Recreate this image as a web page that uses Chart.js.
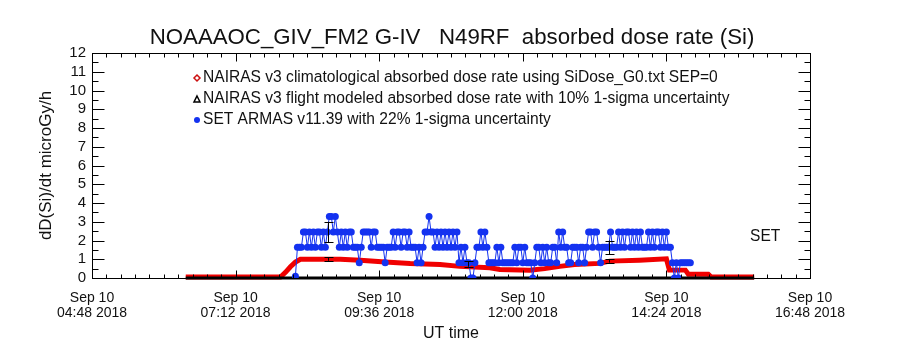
<!DOCTYPE html>
<html>
<head>
<meta charset="utf-8">
<script src="https://cdn.jsdelivr.net/npm/chart.js@4.4.1/dist/chart.umd.min.js"></script>
<style>
  html, body { margin: 0; padding: 0; background: #fff; }
</style>
</head>
<body>
<canvas id="c" width="900" height="350"></canvas>
<script>
// times are UT minutes of day, Sep 10 2018
const xTicks = [288, 432, 576, 720, 864, 1008];
const yTicks = [0, 1, 2, 3, 4, 5, 6, 7, 8, 9, 10, 11, 12];

const titleText = 'NOAAAOC_GIV_FM2 G-IV   N49RF  absorbed dose rate (Si)';
const legendLabels = [
  'NAIRAS v3 climatological absorbed dose rate using SiDose_G0.txt SEP=0',
  'NAIRAS v3 flight modeled absorbed dose rate with 10% 1-sigma uncertainty',
  'SET ARMAS v11.39 with 22% 1-sigma uncertainty'
];

// NAIRAS climatological
const redTimes = [382, 477, 482, 487, 492, 497, 537, 557, 582, 607, 637, 657, 687, 697, 727, 742, 757, 772, 797, 807, 837, 864, 867, 883, 886, 906, 909, 952];
const redValues = [0.05, 0.05, 0.3, 0.6, 0.85, 1.0, 1.0, 0.95, 0.85, 0.77, 0.72, 0.62, 0.55, 0.45, 0.42, 0.5, 0.62, 0.72, 0.78, 0.9, 0.95, 1.02, 0.43, 0.42, 0.2, 0.2, 0.05, 0.05];

// NAIRAS flight modeled
const blackTimes = [382, 952];
const blackValues = [0, 0];

// SET ARMAS
const blueTimes = [
  492, 494, 496, 498, 500, 502, 504, 506, 508, 510, 512, 514, 516, 518, 520, 522, 524, 526, 528, 530,
  532, 534, 536, 538, 540, 542, 544, 546, 548, 550, 552, 554, 556, 558, 560, 562, 564, 566, 568, 570,
  572, 574, 576, 578, 580, 582, 584, 586, 588, 590, 592, 594, 596, 598, 600, 602, 604, 606, 608, 610,
  612, 614, 616, 618, 620, 622, 624, 626, 628, 630, 632, 634, 636, 638, 640, 642, 644, 646, 648, 650,
  652, 654, 656, 658, 660, 662, 664, 666, 668, 670, 672, 674, 676, 678, 680, 682, 684, 686, 688, 690,
  692, 694, 696, 698, 700, 702, 704, 706, 708, 710, 712, 714, 716, 718, 720, 722, 724, 726, 728, 730,
  732, 734, 736, 738, 740, 742, 744, 746, 748, 750, 752, 754, 756, 758, 760, 762, 764, 766, 768, 770,
  772, 774, 776, 778, 780, 782, 784, 786, 788, 790, 792, 794, 796, 798, 800, 802, 804, 806, 808, 810,
  812, 814, 816, 818, 820, 822, 824, 826, 828, 830, 832, 834, 836, 838, 840, 842, 844, 846, 848, 850,
  852, 854, 856, 858, 860, 862, 864, 866, 868, 870, 872, 874, 876, 878, 880, 882, 884, 886, 888
];
const blueValues = [
  0.1, 1.64, 1.64, 1.64, 2.46, 2.46, 1.64, 2.46, 1.64, 2.46, 1.64, 2.46, 2.46, 1.64, 2.46, 1.64, 2.46, 3.28, 3.28, 2.46,
  3.28, 2.46, 1.64, 2.46, 1.64, 2.46, 1.64, 2.46, 2.46, 1.64, 1.64, 1.64, 0.82, 1.64, 2.46, 2.46, 2.46, 2.46, 1.64, 2.46,
  2.46, 1.64, 1.64, 1.64, 1.64, 0.82, 1.64, 1.64,
  1.64, 2.46, 1.64, 2.46, 2.46, 1.64, 2.46, 2.46, 1.64, 2.46, 1.64, 1.64, 1.64, 0.82, 1.64, 0.82, 1.64, 2.46, 2.46, 3.28,
  2.46, 2.46, 1.64, 2.46, 1.64, 2.46, 1.64, 2.46, 1.64, 2.46, 1.64, 2.46, 1.64, 2.46, 0.82, 1.64, 0.82, 1.64, 0.82, 0.82,
  0, 0, 0.82, 1.64, 1.64, 2.46, 1.64, 2.46, 1.64, 0.82,
  0.82, 0.82, 0.82, 1.64, 0.82, 1.64, 0.82, 0.82, 0.82, 0.82, 0.82, 0.82, 1.64, 0.82, 1.64, 1.64, 0.82, 1.64, 0.82, 0.82,
  0.82, 0, 0.82, 1.64, 1.64, 0.82, 1.64, 0.82, 1.64, 0.82, 0.82, 1.64, 1.64, 0.82, 2.46, 1.64, 2.46, 1.64, 1.64, 0.82,
  0.82, 1.64, 1.64, 1.64, 0.82, 1.64, 1.64, 0.82, 1.64, 2.46,
  2.46, 1.64, 2.46, 2.46, 1.64, 0.82, 1.64, 1.64, 1.64, 1.64, 2.46, 1.64, 1.64, 1.64, 2.46, 1.64, 2.46, 1.64, 2.46, 2.46,
  1.64, 2.46, 1.64, 2.46, 1.64, 2.46, 1.64, 1.64, 1.64, 2.46, 1.64, 2.46, 1.64, 2.46, 2.46, 1.64, 2.46, 1.64, 2.46, 1.64,
  1.64, 0.82, 0, 0.82, 0, 0.82, 0.82, 0.82, 0.82, 0.82, 0.82
];

// 1-sigma error bars (ARMAS 22%, NAIRAS 10%)
const errTimes = [525, 525, 665, 806, 806];
const errLow = [1.92, 0.92, 0.6, 1.28, 0.82];
const errHigh = [3.0, 1.12, 0.9, 2.0, 1.0];

const FONT = '"Liberation Sans", Arial, sans-serif';
Chart.defaults.font.family = FONT;
Chart.defaults.color = '#000';

const BLUE = '#1432f0';
const RED = '#f00000';

function pts(xs, ys) {
  return xs.map((x, i) => ({ x: x, y: ys[i] }));
}

function hhmm(v) {
  const h = Math.floor(v / 60), m = Math.round(v % 60);
  return String(h).padStart(2, '0') + ':' + String(m).padStart(2, '0');
}

// fit a string to a given width
function fitFont(ctx, text, width, guess) {
  ctx.font = guess + 'px ' + FONT;
  const w = ctx.measureText(text).width;
  return guess * width / w;
}

const idlFrame = {
  id: 'idlFrame',
  beforeDraw(chart) {
    const ctx = chart.ctx;
    ctx.save();
    ctx.fillStyle = '#fff';
    ctx.fillRect(0, 0, chart.width, chart.height);
    ctx.restore();
  },
  afterDatasetsDraw(chart) {
    const { ctx, chartArea: a, scales: { x, y } } = chart;
    const L = Math.round(a.left) + 0.5, R = Math.round(a.right) + 0.5;
    const T = Math.round(a.top) + 0.5, B = Math.round(a.bottom) + 0.5;
    ctx.save();
    ctx.strokeStyle = '#000';
    ctx.lineWidth = 1;
    ctx.strokeRect(L, T, R - L, B - T);

    ctx.beginPath();
    // x ticks, inward, top and bottom
    for (let i = 0; i <= 50; i++) {
      const px = Math.round(x.getPixelForValue(x.min + i * 14.4)) + 0.5;
      const len = i % 10 === 0 ? 8 : 4;
      ctx.moveTo(px, B); ctx.lineTo(px, B - len);
      ctx.moveTo(px, T); ctx.lineTo(px, T + len);
    }
    // y ticks, inward, left and right
    for (let i = 0; i <= 24; i++) {
      const py = Math.round(y.getPixelForValue(i * 0.5)) + 0.5;
      const len = i % 2 === 0 ? 12 : 6;
      ctx.moveTo(L, py); ctx.lineTo(L + len, py);
      ctx.moveTo(R, py); ctx.lineTo(R - len, py);
    }
    ctx.stroke();

    // error bars
    ctx.beginPath();
    errTimes.forEach((t, i) => {
      const px = Math.round(x.getPixelForValue(t)) + 0.5;
      const y1 = y.getPixelForValue(errLow[i]);
      const y2 = y.getPixelForValue(errHigh[i]);
      ctx.moveTo(px, y1); ctx.lineTo(px, y2);
      ctx.moveTo(px - 4, Math.round(y1) + 0.5); ctx.lineTo(px + 5, Math.round(y1) + 0.5);
      ctx.moveTo(px - 4, Math.round(y2) + 0.5); ctx.lineTo(px + 5, Math.round(y2) + 0.5);
    });
    ctx.stroke();

    // title
    const ts = fitFont(ctx, titleText, 605, 18);
    ctx.font = ts + 'px ' + FONT;
    ctx.fillStyle = '#111';
    ctx.textAlign = 'center';
    ctx.textBaseline = 'middle';
    ctx.fillText(titleText, 452, 38);

    // legend
    const ls = fitFont(ctx, legendLabels[0], 515, 13);
    ctx.font = ls + 'px ' + FONT;
    ctx.textAlign = 'left';
    const lx = 197, ly = [78, 99, 120];
    legendLabels.forEach((s, i) => ctx.fillText(s, lx + 6, ly[i]));
    // symbols
    ctx.lineWidth = 1.5;
    ctx.strokeStyle = '#cc1010';
    ctx.beginPath();
    ctx.moveTo(lx, ly[0] - 3); ctx.lineTo(lx + 3, ly[0]); ctx.lineTo(lx, ly[0] + 3); ctx.lineTo(lx - 3, ly[0]); ctx.closePath();
    ctx.stroke();
    ctx.strokeStyle = '#000';
    ctx.beginPath();
    ctx.moveTo(lx, ly[1] - 3); ctx.lineTo(lx + 3, ly[1] + 3); ctx.lineTo(lx - 3, ly[1] + 3); ctx.closePath();
    ctx.stroke();
    ctx.fillStyle = BLUE;
    ctx.beginPath();
    ctx.arc(lx, ly[2], 3, 0, Math.PI * 2);
    ctx.fill();

    ctx.fillStyle = '#111';
    ctx.font = ls + 'px ' + FONT;
    ctx.fillText('SET', 750, 237);
    ctx.restore();
  }
};

new Chart(document.getElementById('c'), {
  type: 'line',
  data: {
    datasets: [
      {
        label: 'SET ARMAS',
        data: pts(blueTimes, blueValues),
        borderColor: BLUE,
        backgroundColor: BLUE,
        borderWidth: 1,
        pointRadius: 3.5,
        pointBorderWidth: 0,
        pointStyle: 'circle',
        order: 0
      },
      {
        label: 'NAIRAS flight',
        data: pts(blackTimes, blackValues),
        borderColor: '#000',
        borderWidth: 3,
        pointRadius: 0,
        clip: 4,
        order: 1
      },
      {
        label: 'NAIRAS clim',
        data: pts(redTimes, redValues),
        borderColor: RED,
        borderWidth: 5,
        pointRadius: 0,
        clip: 4,
        order: 2
      }
    ]
  },
  options: {
    responsive: false,
    animation: false,
    layout: { padding: { top: 53, right: 90, left: 0, bottom: 0 } },
    plugins: { legend: { display: false }, tooltip: { enabled: false } },
    scales: {
      x: {
        type: 'linear',
        min: 288,
        max: 1008,
        afterBuildTicks: (s) => { s.ticks = xTicks.map((v) => ({ value: v })); },
        afterFit: (s) => { s.height = 72; },
        grid: { display: false, drawTicks: false },
        border: { display: false },
        ticks: {
          autoSkip: false,
          maxRotation: 0,
          padding: 12,
          color: '#111',
          font: { size: 14, lineHeight: 1.1 },
          callback: (v) => ['Sep 10', hhmm(v) + ' 2018']
        },
        title: { display: true, text: 'UT time', color: '#111', font: { size: 16 }, padding: { top: 0, bottom: 7 } }
      },
      y: {
        min: 0,
        max: 12,
        afterBuildTicks: (s) => { s.ticks = yTicks.map((v) => ({ value: v })); },
        afterFit: (s) => { s.width = 92; },
        grid: { display: false, drawTicks: false },
        border: { display: false },
        ticks: { autoSkip: false, padding: 6, color: '#111', font: { size: 15 } },
        title: { display: true, text: 'dD(Si)/dt microGy/h', color: '#111', font: { size: 17 }, padding: { top: 36, bottom: 0 } }
      }
    }
  },
  plugins: [idlFrame]
});
</script>
</body>
</html>
